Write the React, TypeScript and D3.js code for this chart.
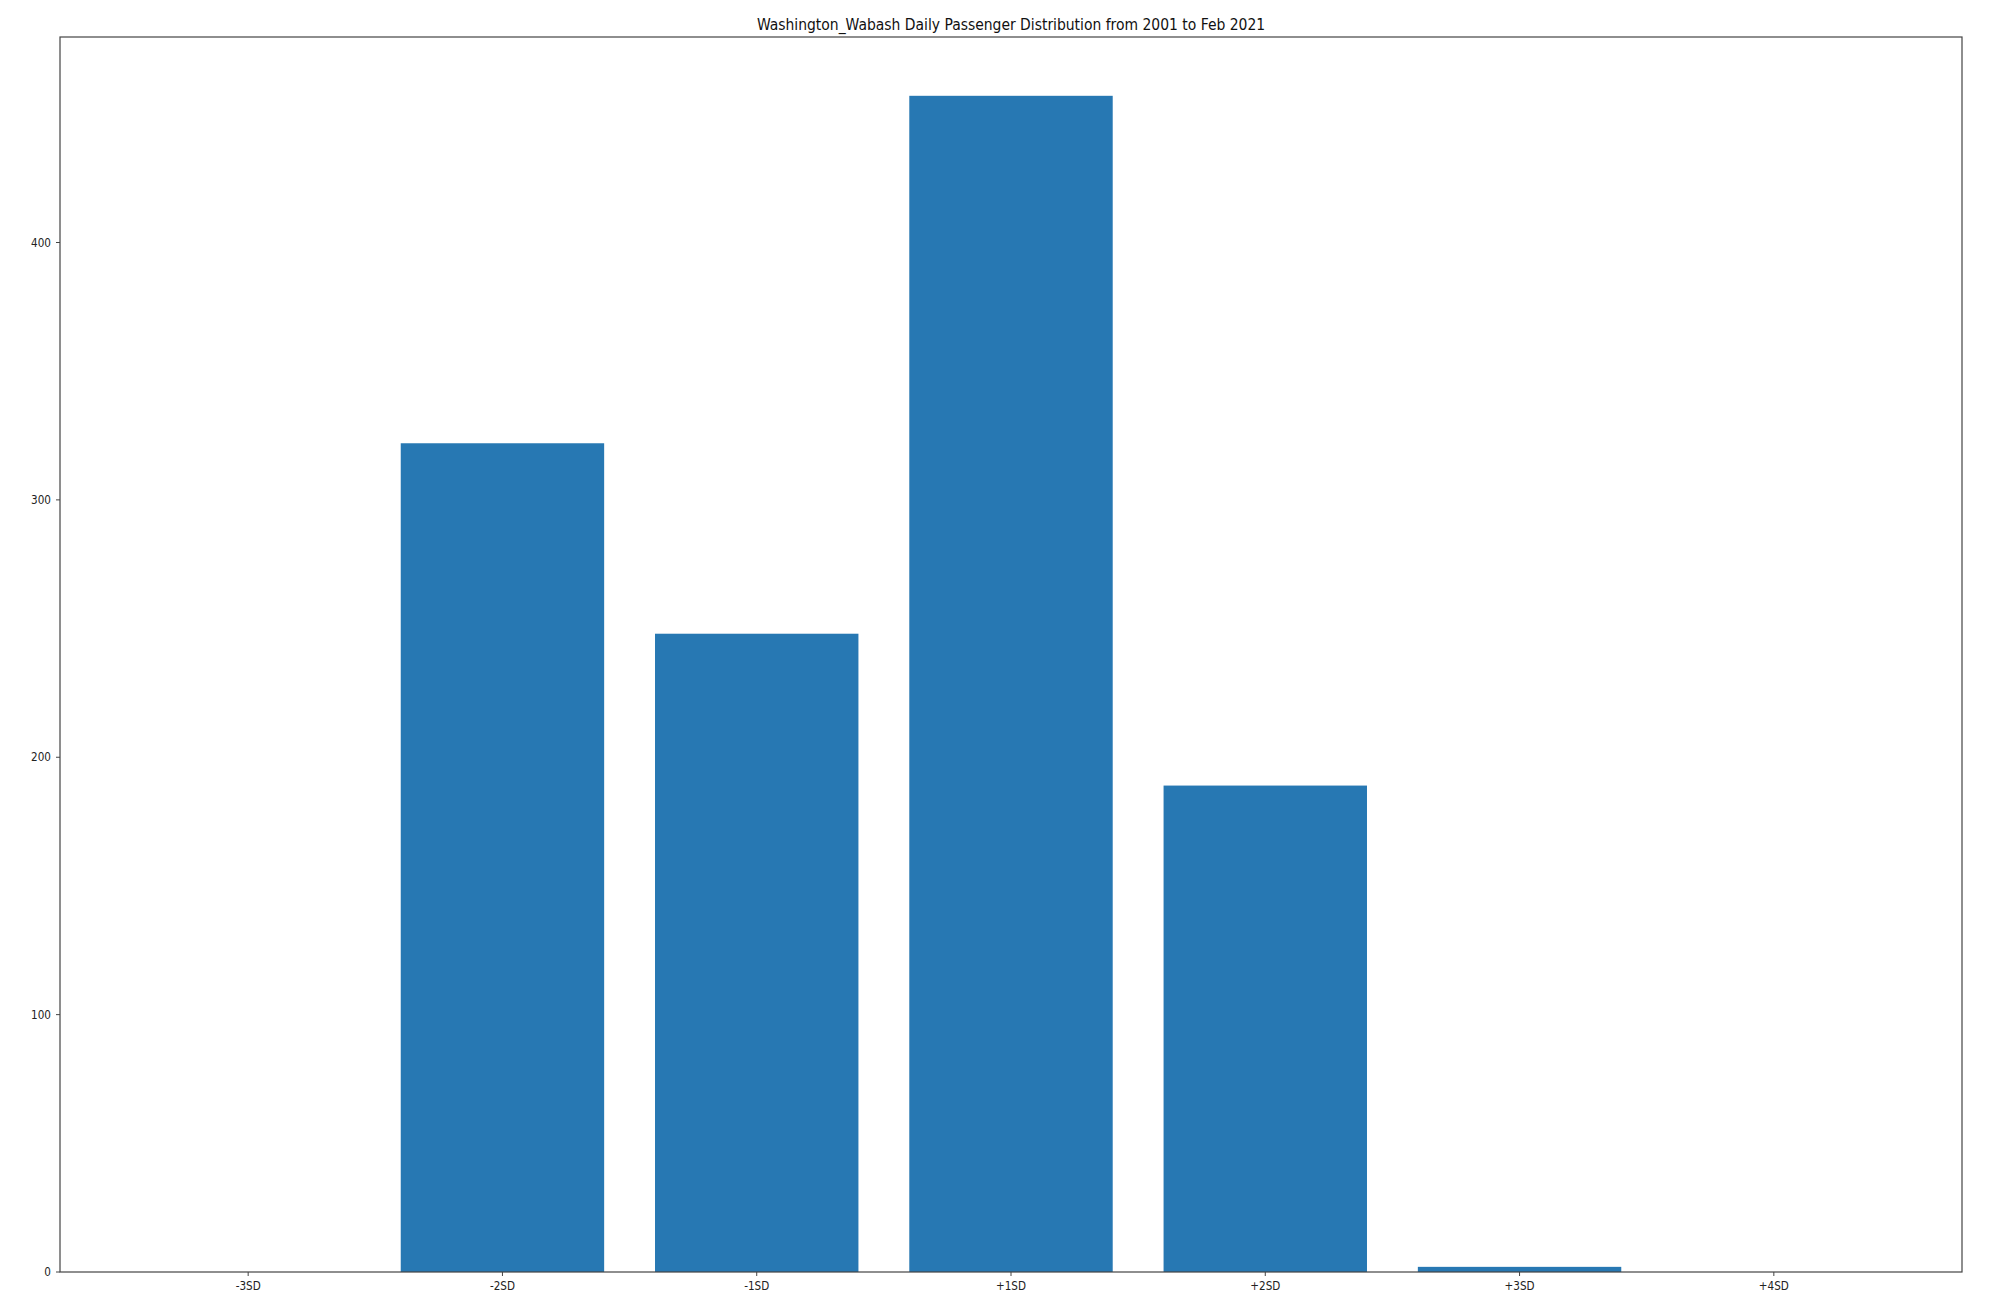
import React from "react";
import * as d3 from "d3";

const categories = ["-3SD", "-2SD", "-1SD", "+1SD", "+2SD", "+3SD", "+4SD"];
const counts = [0, 322, 248, 457, 189, 2, 0];
const yTicks = [0, 100, 200, 300, 400];
const title = "Washington_Wabash Daily Passenger Distribution from 2001 to Feb 2021";

const W = 2010;
const H = 1308;
const left = 60;
const right = 1962;
const top = 37;
const bottom = 1272;
const SX = 0.87;

export default function App() {
  const x = d3
    .scaleLinear()
    .domain([-0.74, categories.length - 1 + 0.74])
    .range([left, right]);
  const yMax = d3.max(counts)! * 1.05;
  const y = d3.scaleLinear().domain([0, yMax]).range([bottom, top]);
  const bw = 0.8;
  const font = "DejaVu Sans, sans-serif";
  return (
    <svg
      width={W}
      height={H}
      style={{ position: "absolute", left: 0, top: 0, background: "#fff" }}
    >
      <rect x={0} y={0} width={W} height={H} fill="#fff" />
      {counts.map((c, i) => (
        <rect
          key={i}
          x={x(i - bw / 2)}
          y={y(c)}
          width={x(i + bw / 2) - x(i - bw / 2)}
          height={y(0) - y(c)}
          fill="#2778b3"
        />
      ))}
      <rect
        x={left}
        y={top}
        width={right - left}
        height={bottom - top}
        fill="none"
        stroke="#444"
        strokeWidth={1.2}
      />
      {yTicks.map((t) => (
        <g key={t}>
          <line x1={left - 4} x2={left} y1={y(t)} y2={y(t)} stroke="#444" strokeWidth={1} />
          <text
            transform={`translate(${left - 9},${y(t)}) scale(${SX},1)`}
            dy="0.35em"
            textAnchor="end"
            fontFamily={font}
            fontSize={12}
            fill="#222"
          >
            {t}
          </text>
        </g>
      ))}
      {categories.map((c, i) => (
        <g key={c}>
          <line x1={x(i)} x2={x(i)} y1={bottom} y2={bottom + 4} stroke="#444" strokeWidth={1} />
          <text
            transform={`translate(${x(i)},${bottom + 18}) scale(${SX},1)`}
            textAnchor="middle"
            fontFamily={font}
            fontSize={12}
            fill="#222"
          >
            {c}
          </text>
        </g>
      ))}
      <text
        transform={`translate(${(left + right) / 2},30) scale(${SX},1)`}
        textAnchor="middle"
        fontFamily={font}
        fontSize={16}
        fill="#111"
      >
        {title}
      </text>
    </svg>
  );
}
